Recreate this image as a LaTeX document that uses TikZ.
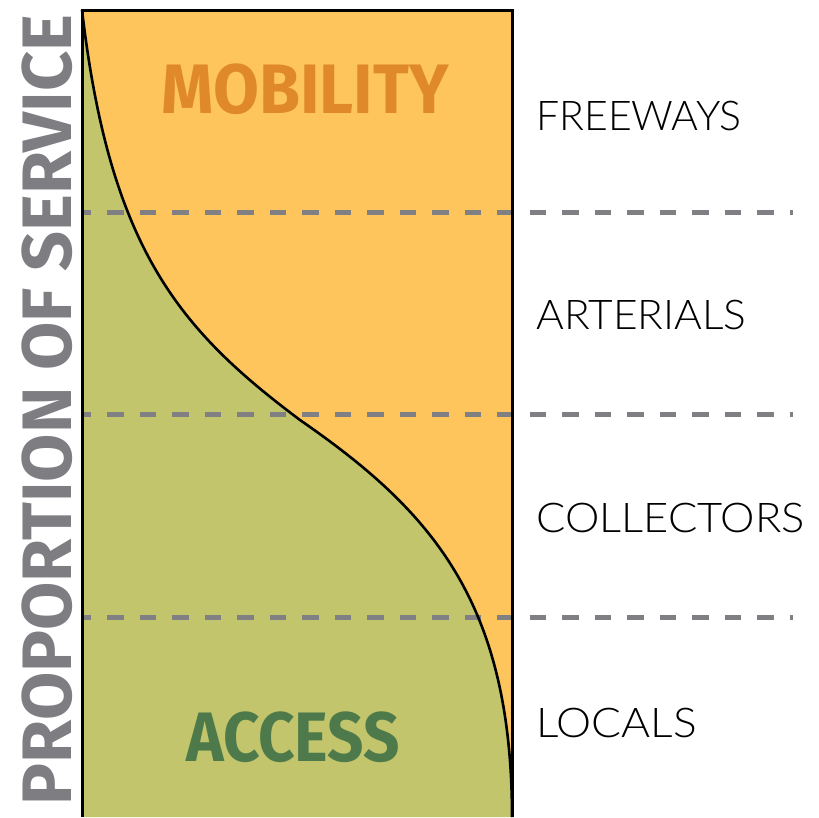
\documentclass[tikz,border=0pt]{standalone}
\usepackage{fontspec}
\setmainfont{Lato}
\newfontfamily\headfont{Fira Sans Bold}
\newfontfamily\lightfont{Lato Light}
\definecolor{mobfill}{HTML}{FDC55C}
\definecolor{accfill}{HTML}{C2C56B}
\definecolor{mobtext}{HTML}{E0892B}
\definecolor{acctext}{HTML}{4E7A4B}
\definecolor{axisgray}{HTML}{7D7D82}
\definecolor{dashgray}{HTML}{808084}
\tikzset{
  classline/.style={draw=dashgray, line width=5pt, dash pattern=on 16.5pt off 16pt, dash phase=7.5pt},
  classlabel/.style={anchor=west, inner sep=0pt, font=\lightfont\fontsize{41}{41}\selectfont, text=black},
  zonelabel/.style={inner sep=0pt, font=\headfont\fontsize{70}{70}\selectfont},
  frame/.style={draw=black, line width=3pt},
  split/.style={draw=black, line width=2.6pt}
}
\begin{document}
\begin{tikzpicture}[x=1pt, y=-1pt]
  \useasboundingbox (0,0) rectangle (819,817);
  % corners of the service panel
  \coordinate (tl) at (82,10);
  \coordinate (tr) at (512,10);
  \coordinate (bl) at (82,817);
  \coordinate (br) at (512,817);
  \coordinate (mid) at (300,420);
  % mobility share fills the panel, access share below the curve
  \fill[mobfill] (tl) rectangle (br);
  \fill[accfill] (tl) .. controls (110,250) and (180,330) .. (mid)
                      .. controls (430,510) and (512,600) .. (br) -- (bl) -- cycle;
  % class boundaries
  \coordinate (d1a) at (82,212);  \coordinate (d1b) at (793,212);
  \coordinate (d2a) at (82,414);  \coordinate (d2b) at (793,414);
  \coordinate (d3a) at (82,617);  \coordinate (d3b) at (793,617);
  \draw[classline] (d1a) -- (d1b);
  \draw[classline] (d2a) -- (d2b);
  \draw[classline] (d3a) -- (d3b);
  % dividing curve
  \draw[split] (tl) .. controls (110,250) and (180,330) .. (mid)
                    .. controls (430,510) and (512,600) .. (br);
  % panel frame (open at the bottom)
  \draw[frame] (bl) -- (tl) -- (tr) -- (br);
  % zone labels
  \node[zonelabel, text=mobtext, xscale=0.95] (mobility) at (305,89) {MOBILITY};
  \node[zonelabel, text=acctext, xscale=0.91] (access) at (293,737) {ACCESS};
  % road classes
  \node[classlabel] (freeways) at (536,115.5) {FREEWAYS};
  \node[classlabel, xscale=1.035] (arterials) at (536,315) {ARTERIALS};
  \node[classlabel, xscale=1.06] (collectors) at (536,517.5) {COLLECTORS};
  \node[classlabel, xscale=1.08] (locals) at (536,723) {LOCALS};
  % vertical axis title
  \node[zonelabel, text=axisgray, rotate=90] (axis) at (47,410) {PROPORTION OF SERVICE};
\end{tikzpicture}
\end{document}
